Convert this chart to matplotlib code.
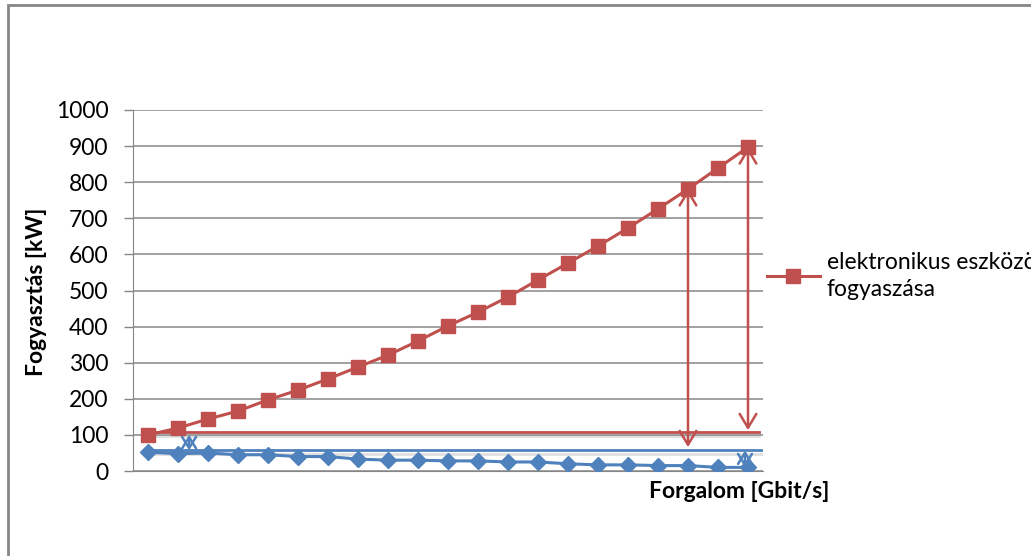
import matplotlib
matplotlib.use("Agg")
import matplotlib.pyplot as plt
import matplotlib.patheffects as pe
from matplotlib.patches import Rectangle

plt.rcParams['font.family'] = ['Lato', 'DejaVu Sans']

# 21 measurement steps along the traffic axis
steps = list(range(21))

# consumption of the electronic equipment [kW]
electronic = [100, 119, 144, 166, 197, 224, 255, 288, 321, 360, 402,
              440, 482, 529, 576, 623, 673, 726, 781, 839, 897]
# second series (diamonds) [kW]
other = [52, 48, 50, 45, 45, 40, 40, 33, 30, 30, 28,
         28, 25, 25, 20, 17, 17, 15, 15, 10, 10]

# reference levels
red_level = 107
blue_level = 57

# vertical difference arrows: (x step, from value, to value)
red_arrows = [(18, 781, 66), (20, 897, 113)]
blue_arrows = [(1.37, 100, 57), (19.9, 57, 10)]

yticks = list(range(0, 1001, 100))

red = '#C0504D'
blue = '#4F81BD'
grid = '#868686'
fs = 16.5

fig = plt.figure(figsize=(10.31, 5.56), dpi=100)
ax = fig.add_axes([133 / 1031, 1 - 471 / 556, 630 / 1031, 361 / 556])

# outer chart frame
fig.patches.append(Rectangle((8 / 1031, -0.05), 1.1, 1.05 - 5 / 556,
                             transform=fig.transFigure, fill=False,
                             edgecolor=grid, linewidth=2, clip_on=False))

ax.set_xlim(-0.5, 20.5)
ax.set_ylim(0, 1000)
ax.set_yticks(yticks)
ax.set_xticks([])
ax.grid(axis='y', color=grid, linewidth=1.1)
ax.set_axisbelow(True)
for s in ['top', 'right']:
    ax.spines[s].set_visible(False)
ax.spines['left'].set_color(grid)
ax.spines['bottom'].set_color(grid)
ax.tick_params(axis='y', length=6.5, width=1, color=grid, pad=11,
               labelsize=fs, labelcolor='#000000')

shadow = [pe.SimpleLineShadow(offset=(0, -2.5), shadow_color='gray', alpha=0.25),
          pe.Normal()]

ax.plot([0, 20.35], [red_level, red_level], color=red, lw=2, path_effects=shadow, zorder=3)
ax.plot([0, 20.5], [blue_level, blue_level], color=blue, lw=2, path_effects=shadow, zorder=3)

ax.plot(steps, other, color=blue, lw=2.2, marker='D', markersize=8.5, zorder=4)
line_red, = ax.plot(steps, electronic, color=red, lw=2.2, marker='s', markersize=10,
                    zorder=5, label='elektronikus eszközök\nfogyaszása')

for x, y0, y1 in red_arrows:
    ax.annotate('', xy=(x, y1), xytext=(x, y0),
                arrowprops=dict(arrowstyle='<->,head_length=1.0,head_width=0.6',
                                color=red, lw=1.8, shrinkA=0, shrinkB=0), zorder=6)
for x, y0, y1 in blue_arrows:
    ax.annotate('', xy=(x, y1), xytext=(x, y0),
                arrowprops=dict(arrowstyle='<->,head_length=0.8,head_width=0.5',
                                color=blue, lw=1.8, shrinkA=0, shrinkB=0), zorder=6)

fig.text(37 / 1031, 1 - 292 / 556, 'Fogyasztás [kW]', fontsize=fs,
         fontweight='bold', rotation=90, ha='center', va='center')
fig.text(739 / 1031, 1 - 492 / 556, 'Forgalom [Gbit/s]', fontsize=fs,
         fontweight='bold', ha='center', va='center')

leg = fig.legend(handles=[line_red], loc='center left',
                 bbox_to_anchor=(767 / 1031, 1 - 276 / 556),
                 frameon=False, fontsize=fs, handlelength=2.3,
                 handletextpad=0.3, borderpad=0, borderaxespad=0)
for t in leg.get_texts():
    t.set_linespacing(1.4)

fig.savefig('out.png', dpi=100)
